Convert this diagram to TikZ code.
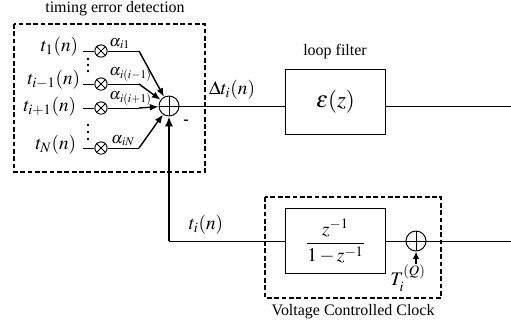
\documentclass[tikz,border=0pt]{standalone}
\usepackage{mathptmx}
\usepackage{fontspec}
\setmainfont{Liberation Serif}
\usetikzlibrary{arrows.meta,positioning,calc}
\tikzset{
  grp/.style={draw,line width=0.9pt,dash pattern=on 3pt off 1.6pt},
  blk/.style={draw,line width=0.6pt,minimum width=2.22cm,minimum height=1.45cm,inner sep=0pt},
  mult/.style={circle,draw,line width=0.6pt,minimum size=0.27cm,inner sep=0pt,
    path picture={\draw[line width=0.6pt] (path picture bounding box.north west)--(path picture bounding box.south east)
      (path picture bounding box.south west)--(path picture bounding box.north east);}},
  adder/.style={circle,draw,line width=0.6pt,minimum size=0.44cm,inner sep=0pt,
    path picture={\draw[line width=0.6pt] (path picture bounding box.north)--(path picture bounding box.south)
      (path picture bounding box.west)--(path picture bounding box.east);}},
  wire/.style={line width=0.6pt},
  arr/.style={-{Latex[length=1.9mm,width=1.5mm]},line width=0.9pt},
  fbk/.style={-{Latex[length=2.2mm,width=1.8mm]},line width=1.4pt},
  sig/.style={inner sep=1pt,font=\large},
  wlbl/.style={inner sep=0pt,anchor=south west}
}

\begin{document}
\begin{tikzpicture}[x=0.022cm,y=-0.022cm,font=\normalsize]
  \useasboundingbox (0,0) rectangle (511,326);
  % timing error detection
  \draw[grp] (14,24) rectangle (205,172);
  \node (tedlbl) at (115,9) {timing error detection};
  \node[adder] (sum) at (169,106) {};
  \node[mult] (m1) at (101,51) {};
  \node[mult] (m2) at (101,84) {};
  \node[mult] (m3) at (101,108) {};
  \node[mult] (m4) at (101,148) {};
  \node[sig,anchor=east] (t1) at (80,47) {$t_1(n)$};
  \node[sig,anchor=east] (t2) at (82,80) {$t_{i-1}(n)$};
  \node[sig,anchor=east] (t3) at (78,107) {$t_{i+1}(n)$};
  \node[sig,anchor=east] (t4) at (78,145) {$t_N(n)$};
  \foreach \k/\yy in {1/51,2/84,3/108,4/148}{
    \coordinate (s\k) at (83,\yy);
    \coordinate (b\k) at (139,\yy);
    \draw[wire] (s\k) -- (m\k);
    \draw[wire] (m\k) -- (b\k);
    \draw[arr] (b\k) -- (sum);
  }
  \foreach \yy in {59,65,71,125,132,139}
    \fill (88,\yy) circle (0.9pt);
  \node[wlbl] (w1) at (109,49) {$\alpha_{\mkern1mu i1}$};
  \node[wlbl] (w2) at (109,82) {$\alpha_{\mkern1mu i(i-1)}$};
  \node[wlbl] (w3) at (109,106) {$\alpha_{\mkern1mu i(i+1)}$};
  \node[wlbl] (w4) at (111,146) {$\alpha_{\mkern1mu iN}$};
  \node (neg) at (186,122) {\textbf{-}};
  % loop filter
  \node[blk] (lf) at (335.5,102) {\Large$\varepsilon(z)$};
  \node (lflbl) at (335,52) {loop filter};
  \draw[wire] (sum.east) -- node[sig,above=3pt] {$\Delta t_i(n)$} (sum.east -| lf.west);
  \coordinate (o1) at (511,106);
  \draw[wire] (lf.east |- o1) -- (o1);
  % voltage controlled clock
  \draw[grp] (265,197) rectangle (441,298);
  \node (vcclbl) at (353,312) {Voltage Controlled Clock};
  \node[blk,minimum height=1.43cm] (dz) at (335.5,241) {\large$\displaystyle\frac{z^{-1}}{1-z^{-1}}$};
  \node[adder] (sum2) at (416,241) {};
  \coordinate (o2) at (511,241);
  \draw[wire] (dz) -- (sum2);
  \draw[wire] (sum2) -- (o2);
  \coordinate (tq) at (416,264);
  \draw[fbk,-{Latex[length=1.6mm,width=1.4mm]}] (tq) -- (sum2);
  \node[sig] (tqlbl) at (408,278) {$T_i^{(Q)}$};
  % feedback
  \coordinate (fb) at (169,241);
  \draw[wire] (fb) -- node[sig,above=3pt,pos=0.32] {$t_i(n)$} (fb -| dz.west);
  \draw[fbk] (fb) -- (sum);
\end{tikzpicture}
\end{document}
